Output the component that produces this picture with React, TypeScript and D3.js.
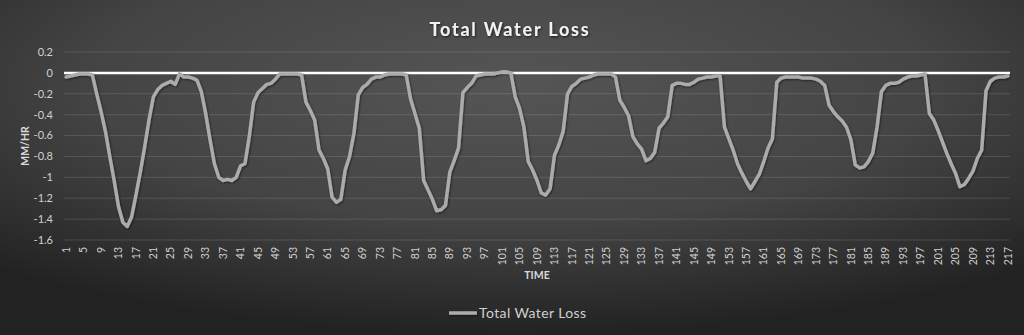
import React from "react";
import * as d3 from "d3";

const W = 1024;
const H = 335;

const titleText = "Total Water Loss";
const yAxisTitle = "MM/HR";
const xAxisTitle = "TIME";
const seriesName = "Total Water Loss";

const yTicks = [0.2, 0, -0.2, -0.4, -0.6, -0.8, -1, -1.2, -1.4, -1.6];

const lossValues = [
  -0.04, -0.03, -0.02, -0.01, -0.01, -0.01, -0.02, -0.2, -0.37, -0.56,
  -0.8, -1.03, -1.28, -1.43, -1.47, -1.38, -1.17, -0.95, -0.71, -0.45,
  -0.23, -0.16, -0.12, -0.1, -0.08, -0.11, -0.01, -0.04, -0.04, -0.05,
  -0.07, -0.18, -0.39, -0.64, -0.87, -1.0, -1.03, -1.02, -1.03, -1.0,
  -0.89, -0.87, -0.61, -0.28, -0.19, -0.15, -0.11, -0.1, -0.06, -0.01,
  -0.01, -0.01, -0.01, -0.01, -0.02, -0.28, -0.36, -0.45, -0.74, -0.82,
  -0.92, -1.19, -1.24, -1.21, -0.93, -0.8, -0.58, -0.21, -0.14, -0.11,
  -0.06, -0.04, -0.04, -0.02, -0.01, -0.01, -0.01, -0.01, -0.02, -0.25,
  -0.39, -0.53, -1.03, -1.12, -1.21, -1.32, -1.31, -1.27, -0.95, -0.84,
  -0.72, -0.19, -0.14, -0.1, -0.03, -0.02, -0.01, -0.01, -0.01, 0,
  0.01, 0.01, 0, -0.23, -0.34, -0.52, -0.85, -0.93, -1.03, -1.15,
  -1.17, -1.11, -0.79, -0.69, -0.56, -0.2, -0.13, -0.1, -0.06, -0.05,
  -0.04, -0.02, -0.01, -0.01, -0.01, -0.01, -0.04, -0.26, -0.33, -0.41,
  -0.61, -0.68, -0.73, -0.84, -0.82, -0.76, -0.53, -0.48, -0.42, -0.12,
  -0.1, -0.1, -0.11, -0.11, -0.09, -0.06, -0.05, -0.04, -0.04, -0.03,
  -0.03, -0.52, -0.63, -0.74, -0.87, -0.96, -1.04, -1.11, -1.04, -0.97,
  -0.85, -0.72, -0.63, -0.09, -0.05, -0.04, -0.04, -0.04, -0.04, -0.05,
  -0.05, -0.05, -0.06, -0.08, -0.12, -0.31, -0.37, -0.42, -0.46, -0.52,
  -0.64, -0.88, -0.91, -0.9, -0.85, -0.77, -0.52, -0.18, -0.12, -0.1,
  -0.1, -0.09, -0.06, -0.04, -0.03, -0.03, -0.02, -0.01, -0.39, -0.45,
  -0.55, -0.66, -0.77, -0.87, -0.96, -1.09, -1.07, -1.01, -0.94, -0.82,
  -0.74, -0.17, -0.08, -0.05, -0.04, -0.04, -0.03,
];

const timeLabels = lossValues.map((_, i) => String(i + 1));
const xTickLabels = timeLabels.filter((_, i) => i % 4 === 0);

const FONT = "Lato, 'Open Sans', sans-serif";

export default function App() {
  const plot = { left: 64, right: 1010, top: 52, bottom: 240 };
  const x = d3
    .scalePoint<string>()
    .domain(timeLabels)
    .range([plot.left, plot.right])
    .padding(0.5);
  const y = d3.scaleLinear().domain([-1.6, 0.2]).range([plot.bottom, plot.top]);

  const line = d3
    .line<number>()
    .x((_, i) => x(timeLabels[i]) as number)
    .y((d) => y(d));

  const fmt = (v: number) => (v === 0 ? "0" : String(+v.toFixed(1)));

  return (
    <svg
      width={W}
      height={H}
      style={{ position: "absolute", left: 0, top: 0, display: "block" }}
    >
      <defs>
        <radialGradient id="bg" cx="50%" cy="25%" r="75%" fx="50%" fy="25%">
          <stop offset="0%" stopColor="#555555" />
          <stop offset="55%" stopColor="#444444" />
          <stop offset="100%" stopColor="#222222" />
        </radialGradient>
        <filter id="shadow" filterUnits="userSpaceOnUse" x={0} y={0} width={W} height={H}>
          <feDropShadow dx="0.8" dy="1" stdDeviation="0.9" floodColor="#000" floodOpacity="0.55" />
        </filter>
        <filter id="tshadow" x="-10%" y="-30%" width="120%" height="160%">
          <feDropShadow dx="0.8" dy="1" stdDeviation="0.8" floodColor="#000" floodOpacity="0.7" />
        </filter>
      </defs>
      <rect x={0} y={0} width={W} height={H} fill="url(#bg)" />

      <text
        x={510}
        y={36}
        textAnchor="middle"
        fontFamily={FONT}
        fontWeight="bold"
        fontSize={18}
        letterSpacing={1.8}
        fill="#f2f2f2"
        filter="url(#tshadow)"
      >
        {titleText}
      </text>

      {/* gridlines */}
      {yTicks
        .filter((t) => t !== 0)
        .map((t) => (
          <line
            key={t}
            x1={plot.left}
            x2={plot.right}
            y1={y(t)}
            y2={y(t)}
            stroke="rgba(255,255,255,0.13)"
            strokeWidth={1}
          />
        ))}

      {/* y tick labels */}
      {yTicks.map((t) => (
        <text
          key={"yl" + t}
          x={53}
          y={y(t)}
          dy="0.35em"
          textAnchor="end"
          fontFamily={FONT}
          fontSize={11}
          fill="#d0d0d0"
        >
          {fmt(t)}
        </text>
      ))}

      {/* zero axis line */}
      <line
        x1={plot.left}
        x2={plot.right}
        y1={y(0)}
        y2={y(0)}
        stroke="#ffffff"
        strokeWidth={2.5}
      />

      {/* series */}
      <path
        d={line(lossValues) || ""}
        fill="none"
        stroke="#ababab"
        strokeWidth={3.5}
        strokeLinejoin="round"
        strokeLinecap="round"
        filter="url(#shadow)"
      />

      {/* x tick labels */}
      {xTickLabels.map((lab) => (
        <text
          key={"xl" + lab}
          transform={`translate(${x(lab)},247) rotate(-90)`}
          dy="0.35em"
          textAnchor="end"
          fontFamily={FONT}
          fontSize={10.5}
          fill="#d0d0d0"
        >
          {lab}
        </text>
      ))}

      {/* axis titles */}
      <text
        transform={`translate(29,${(plot.top + plot.bottom) / 2}) rotate(-90)`}
        textAnchor="middle"
        fontFamily={FONT}
        fontWeight="bold"
        fontSize={10.5}
        fill="#d9d9d9"
      >
        {yAxisTitle}
      </text>
      <text
        x={(plot.left + plot.right) / 2}
        y={279}
        textAnchor="middle"
        fontFamily={FONT}
        fontWeight="bold"
        fontSize={10.5}
        fill="#d9d9d9"
      >
        {xAxisTitle}
      </text>

      {/* legend */}
      <line x1={449} x2={477} y1={313} y2={313} stroke="#ababab" strokeWidth={3.5} filter="url(#shadow)" />
      <text x={479} y={318} fontFamily={FONT} fontSize={14} letterSpacing={0.4} fill="#d0d0d0">
        {seriesName}
      </text>
    </svg>
  );
}
